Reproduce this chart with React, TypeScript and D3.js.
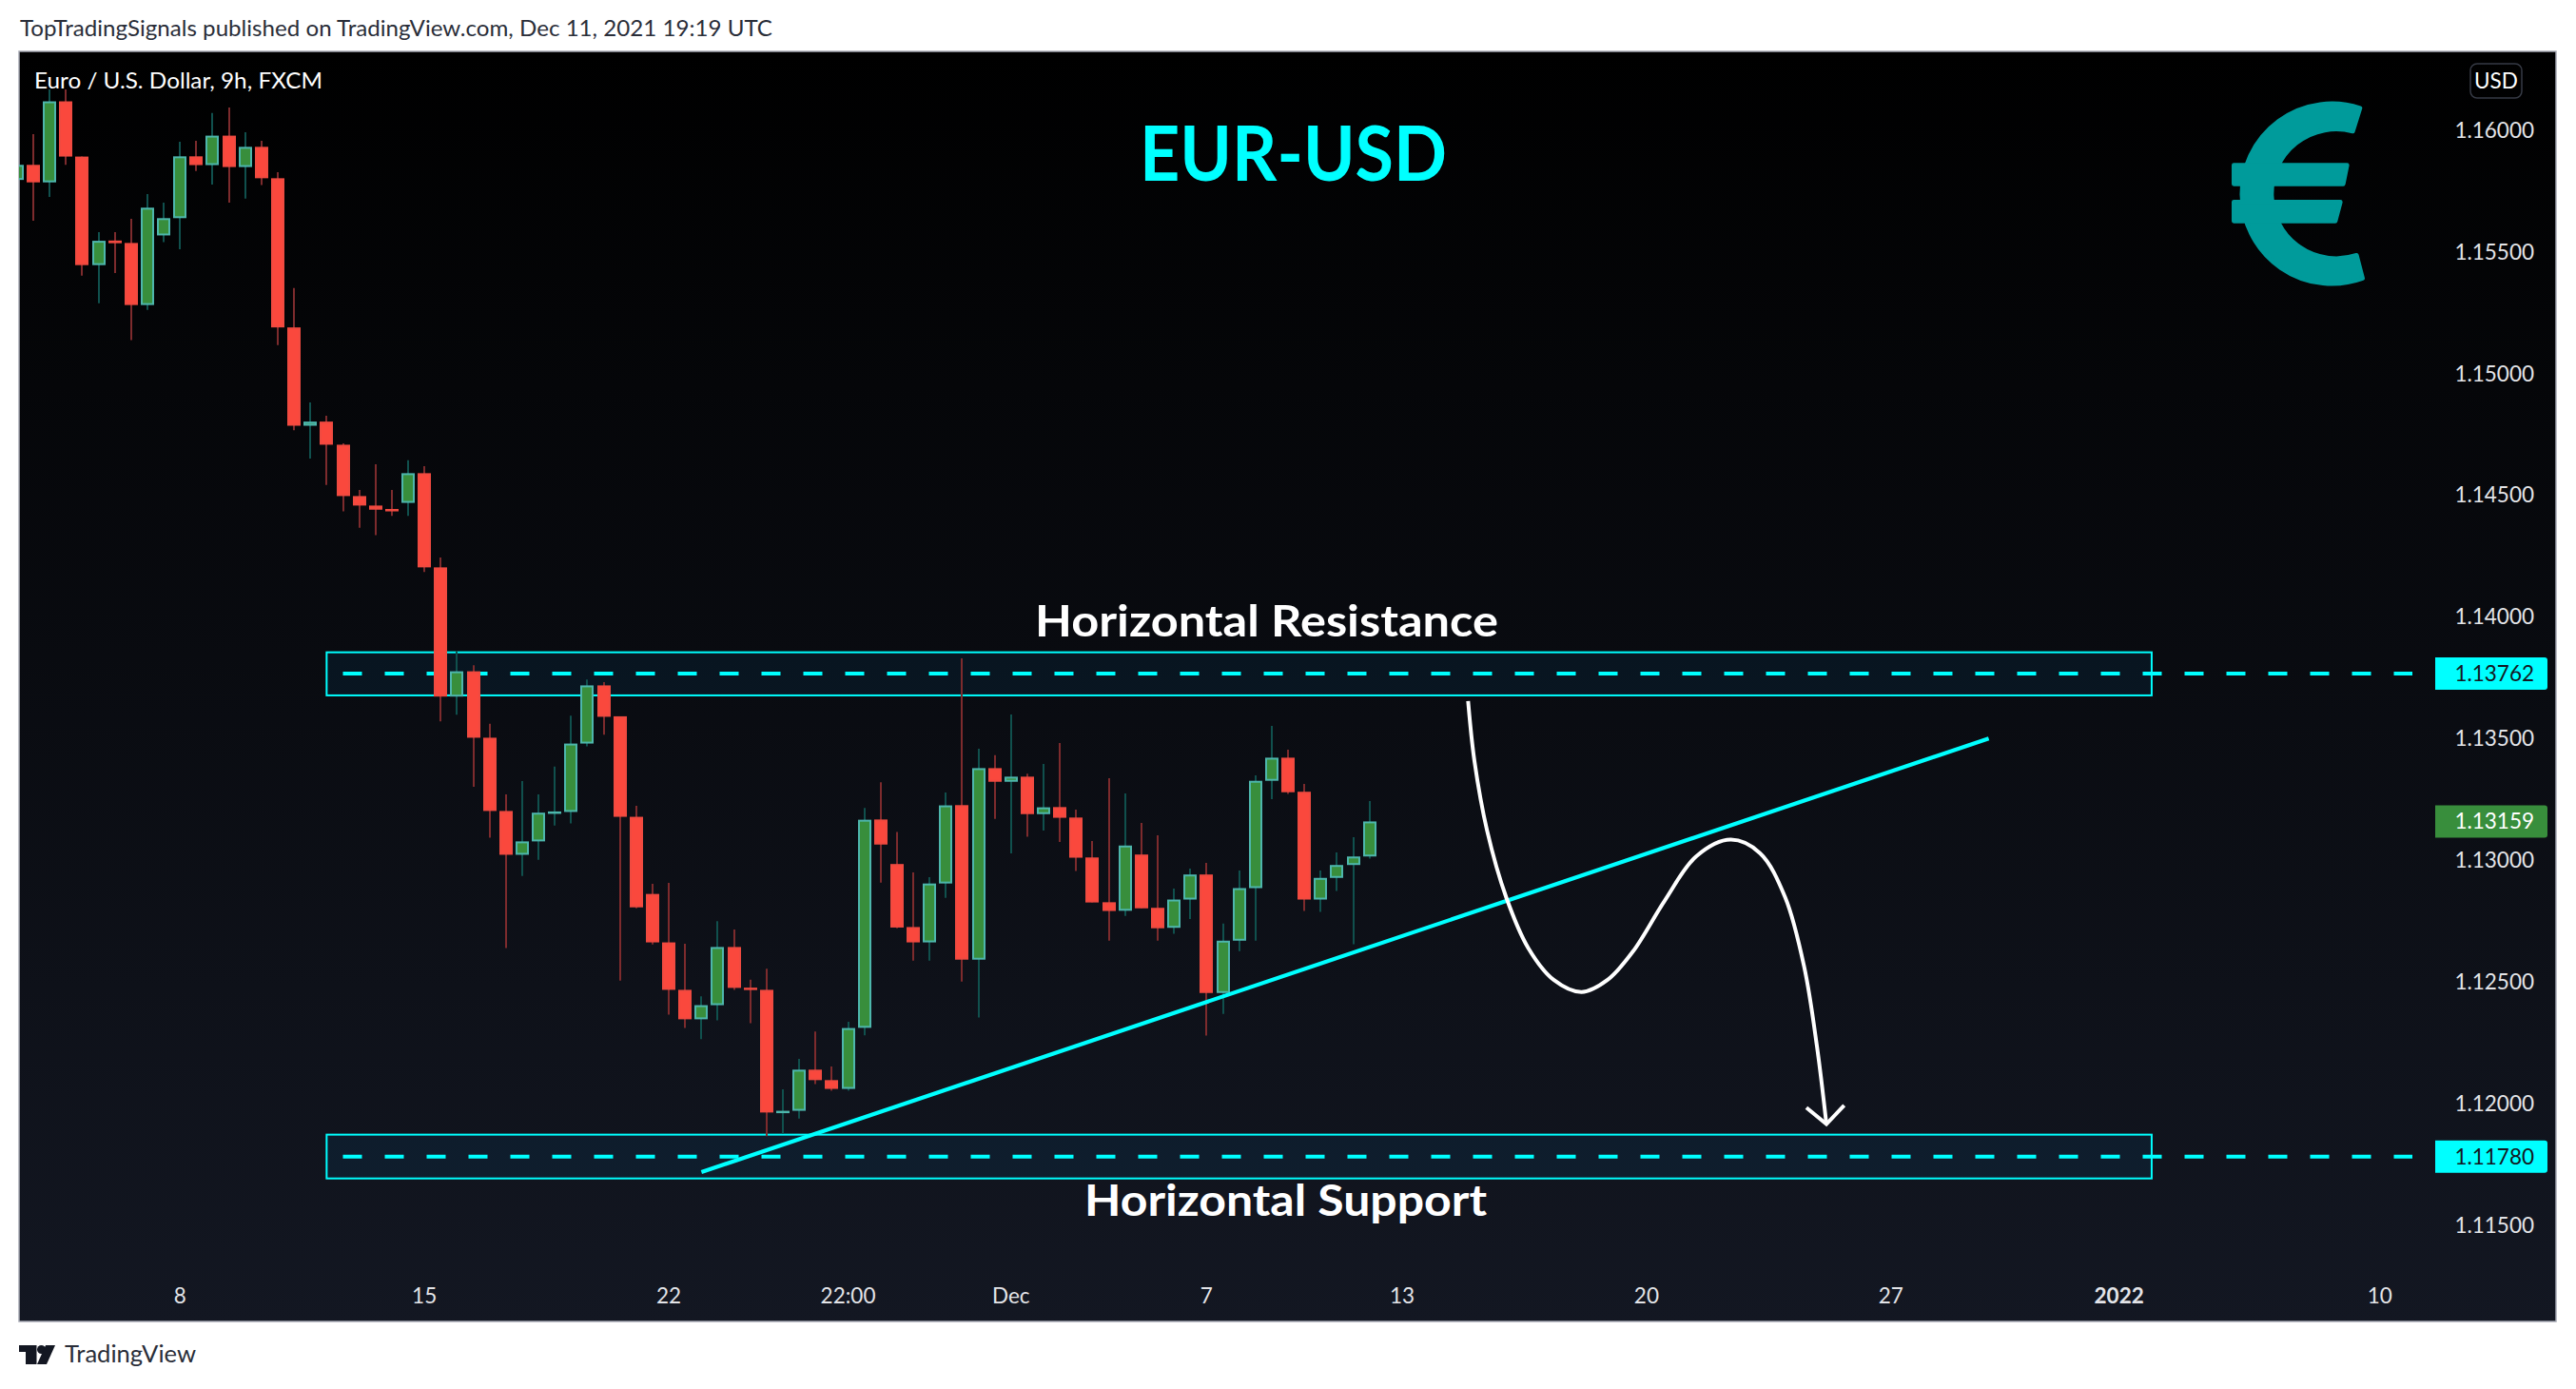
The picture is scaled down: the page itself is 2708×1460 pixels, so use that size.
import * as d3 from 'd3';

// -----------------------------------------------------------------------------
// Data
// -----------------------------------------------------------------------------

const opens = [
	1.15795, 1.15857, 1.15785, 1.16118, 1.15891, 1.15445, 1.15546, 1.15536, 1.15281, 1.15567,
	1.15638, 1.15892, 1.15856, 1.15977, 1.15848, 1.15931, 1.15802, 1.15189, 1.14785, 1.14802,
	1.14707, 1.14496, 1.14457, 1.14443, 1.14468, 1.1459, 1.14203, 1.13672, 1.13776, 1.13503,
	1.13202, 1.13022, 1.13077, 1.13195, 1.13198, 1.13479, 1.13718, 1.13591, 1.13178, 1.12861,
	1.12662, 1.12467, 1.12346, 1.12404, 1.12643, 1.12476, 1.12467, 1.11963, 1.1197, 1.12139,
	1.12096, 1.1206, 1.12311, 1.13167, 1.12984, 1.12725, 1.12662, 1.12904, 1.13226, 1.12591,
	1.13378, 1.13322, 1.13343, 1.13189, 1.13218, 1.13175, 1.13011, 1.12827, 1.12792, 1.13023,
	1.12804, 1.12722, 1.12838, 1.12941, 1.12454, 1.12669, 1.12885, 1.13326, 1.13421, 1.13281,
	1.12838, 1.12927, 1.1298, 1.13015,
];
const highs = [
	1.159, 1.15983, 1.16167, 1.16167, 1.15891, 1.15581, 1.15581, 1.15635, 1.15737, 1.15702,
	1.15952, 1.15956, 1.1607, 1.16093, 1.15991, 1.15956, 1.15827, 1.15351, 1.14881, 1.14826,
	1.14713, 1.14521, 1.14627, 1.14521, 1.14643, 1.14619, 1.14244, 1.1386, 1.13801, 1.1356,
	1.1327, 1.13325, 1.1327, 1.13384, 1.13594, 1.13742, 1.13731, 1.13591, 1.13223, 1.12903,
	1.12907, 1.12656, 1.1244, 1.12749, 1.12715, 1.12509, 1.12554, 1.12058, 1.12183, 1.12296,
	1.12152, 1.12336, 1.13214, 1.1332, 1.13116, 1.1295, 1.1293, 1.13278, 1.13829, 1.13458,
	1.13431, 1.13599, 1.13355, 1.13395, 1.13481, 1.13208, 1.13079, 1.13337, 1.13274, 1.13153,
	1.13102, 1.12883, 1.12965, 1.12989, 1.12739, 1.12957, 1.13348, 1.13552, 1.13454, 1.13313,
	1.12957, 1.13032, 1.13094, 1.13243,
];
const lows = [
	1.1576, 1.15627, 1.15725, 1.15857, 1.15402, 1.15288, 1.15412, 1.15137, 1.15261, 1.15539,
	1.1551, 1.15832, 1.15776, 1.15702, 1.15718, 1.15774, 1.15116, 1.14766, 1.1465, 1.14542,
	1.14433, 1.14366, 1.14335, 1.14415, 1.14415, 1.14184, 1.1357, 1.13598, 1.13301, 1.13092,
	1.12639, 1.12935, 1.13001, 1.13142, 1.13151, 1.13468, 1.13515, 1.12505, 1.12802, 1.12653,
	1.12365, 1.1231, 1.12264, 1.12342, 1.12467, 1.1233, 1.11866, 1.11876, 1.11938, 1.1208,
	1.12052, 1.12052, 1.1228, 1.12908, 1.1272, 1.12587, 1.12587, 1.12845, 1.12501, 1.12353,
	1.13169, 1.13028, 1.13096, 1.13122, 1.13075, 1.12955, 1.12826, 1.12669, 1.12771, 1.12802,
	1.12669, 1.12697, 1.12758, 1.12279, 1.12368, 1.12626, 1.12669, 1.13251, 1.13272, 1.12791,
	1.12787, 1.12873, 1.12654, 1.13006,
];
const closes = [
	1.15857, 1.15785, 1.16118, 1.15891, 1.15445, 1.15545, 1.15535, 1.15281, 1.15681, 1.15638,
	1.15892, 1.15856, 1.15977, 1.15848, 1.15931, 1.15802, 1.15189, 1.14785, 1.14802, 1.14707,
	1.14496, 1.14457, 1.1444, 1.14433, 1.1459, 1.14203, 1.13672, 1.13776, 1.13503, 1.13202,
	1.13022, 1.13077, 1.13195, 1.132, 1.13479, 1.13718, 1.13589, 1.13178, 1.12806, 1.12662,
	1.12467, 1.12346, 1.12404, 1.12643, 1.12475, 1.12469, 1.11963, 1.1197, 1.12139, 1.12096,
	1.1206, 1.1231, 1.13166, 1.13064, 1.12723, 1.12662, 1.12904, 1.13225, 1.12591, 1.13378,
	1.13322, 1.13343, 1.13189, 1.13217, 1.13174, 1.1301, 1.12826, 1.12791, 1.1306, 1.12802,
	1.1272, 1.12838, 1.12941, 1.12454, 1.12669, 1.12885, 1.13326, 1.13421, 1.13279, 1.12838,
	1.12927, 1.1298, 1.13015, 1.13159,
];

const priceTicks = [1.16, 1.155, 1.15, 1.145, 1.14, 1.135, 1.13, 1.125, 1.12, 1.115];
const timeTicks = [
	{ slot: 10, label: '8' },
	{ slot: 25, label: '15' },
	{ slot: 40, label: '22' },
	{ slot: 51, label: '22:00' },
	{ slot: 61, label: 'Dec' },
	{ slot: 73, label: '7' },
	{ slot: 85, label: '13' },
	{ slot: 100, label: '20' },
	{ slot: 115, label: '27' },
	{ slot: 129, label: '2022', bold: true },
	{ slot: 145, label: '10' },
];

// zones: slot range and price range
const zones = [
	{ key: 'resistance', from: 19, to: 131, top: 1.13854, bottom: 1.13677 },
	{ key: 'support', from: 19, to: 131, top: 1.11872, bottom: 1.11692 },
];
const levels = [
	{ key: 'resistance', price: 1.13767, label: '1.13762' },
	{ key: 'support', price: 1.11782, label: '1.11780' },
];
const trendSlots = [42, 121];
const trendPrices = [1.11718, 1.135];

// the hand drawn projection
const pathSlots = [
	89.05, 89.44, 90.22, 91.39, 92.75, 94.3, 96.02, 97.61, 99.17, 101.12, 103.06, 105.16, 106.96,
	108.51, 109.68, 110.46, 111.04,
];
const pathPrices = [
	1.13654, 1.13407, 1.1312, 1.12847, 1.12638, 1.12508, 1.12458, 1.12508, 1.12625, 1.12834, 1.13016,
	1.13084, 1.13029, 1.12847, 1.1256, 1.12234, 1.11915,
];
const arrowSlots = [109.81, 111.04, 112.13];
const arrowPrices = [1.11983, 1.11915, 1.11992];

const lastPrice = 1.13159;

// -----------------------------------------------------------------------------
// Layout and colours
// -----------------------------------------------------------------------------

const WIDTH = 2708;
const HEIGHT = 1460;
const PANE = { left: 20, top: 54, right: 2687, bottom: 1389 };
const FONT = 'Lato, "Noto Sans", sans-serif';

const UP_FILL = '#388e3c';
const UP_BORDER = '#4db6ac';
const UP_WICK = '#10504d';
const DOWN_FILL = '#fa483d';
const DOWN_BORDER = '#f04a40';
const DOWN_WICK = '#7d2b2d';
const CYAN = '#00ffff';

const x = d3.scaleLinear().domain([0, 1]).range([17.9, 35.03]);
const y = d3.scaleLinear().domain([1.16, 1.115]).range([136.7, 1287.8]);

const curve = d3
	.line<number>()
	.x((slot) => x(slot))
	.y((_, i) => y(pathPrices[i]))
	.curve(d3.curveCatmullRom.alpha(0.5));

const arrow = d3
	.line<number>()
	.x((slot) => x(slot))
	.y((_, i) => y(arrowPrices[i]));

const BODY = 14;

function Candles() {
	return (
		<g clipPath="url(#pane-clip)">
			{opens.map((open, i) => {
				const close = closes[i];
				const up = close >= open;
				const cx = Math.round(x(i));
				const top = y(Math.max(open, close));
				const bottom = y(Math.min(open, close));
				return (
					<g key={i}>
						<line x1={cx} x2={cx} y1={y(highs[i])} y2={y(lows[i])} stroke={up ? UP_WICK : DOWN_WICK} strokeWidth={2} />
						<rect
							x={cx - BODY / 2 + 1}
							y={top + 1}
							width={BODY - 2}
							height={Math.max(0.5, bottom - top - 2)}
							fill={up ? UP_FILL : DOWN_FILL}
							stroke={up ? UP_BORDER : DOWN_BORDER}
							strokeWidth={2}
						/>
					</g>
				);
			})}
		</g>
	);
}

function PriceAxis() {
	return (
		<g fontFamily={FONT} fontSize={22.5} textAnchor="end">
			{priceTicks.map((tick) => (
				<text key={tick} x={2664} y={y(tick) + 8} fill="#e3e4e8">
					{d3.format('.5f')(tick)}
				</text>
			))}
			{levels.map((level) => (
				<g key={level.key}>
					<path d={pill(y(level.price))} fill={CYAN} />
					<text x={2664} y={y(level.price) + 8} fill="#131722">
						{level.label}
					</text>
				</g>
			))}
			<path d={pill(y(lastPrice))} fill={UP_FILL} />
			<text x={2664} y={y(lastPrice) + 8} fill="#ffffff">
				{d3.format('.5f')(lastPrice)}
			</text>
			<rect x={2597} y={67} width={54} height={36} rx={7} fill="none" stroke="#363a45" strokeWidth={1.5} />
			<text x={2624} y={93} textAnchor="middle" fill="#ffffff" fontSize={22.5}>
				USD
			</text>
		</g>
	);
}

// price tag, square on the left, slightly rounded on the right
function pill(cy: number) {
	const l = 2560;
	const r = 2678;
	const h = 17;
	return `M${l},${cy - h}H${r - 3}Q${r},${cy - h} ${r},${cy - h + 3}V${cy + h - 3}Q${r},${cy + h} ${r - 3},${cy + h}H${l}Z`;
}

function TimeAxis() {
	return (
		<g fontFamily={FONT} fontSize={22.5} textAnchor="middle" fill="#e3e4e8">
			{timeTicks.map((tick) => (
				<text key={tick.label} x={x(tick.slot)} y={1370} fontWeight={tick.bold ? 700 : 400}>
					{tick.label}
				</text>
			))}
		</g>
	);
}

function EuroIcon() {
	return (
		<g transform="translate(2200,40) scale(0.3333)" fill="#009b9b" stroke="#009b9b" strokeWidth={14} strokeLinejoin="round">
			<path d="M843,221 A284,284 0 1 0 851,758 L832,685 A204,204 0 1 1 820,294 Z" />
			<path d="M445,401 H802 L790,460 H445 Z" />
			<path d="M445,517 H781 L765,577 H445 Z" />
		</g>
	);
}

function Logo() {
	return (
		<g fill="#131722">
			<path d="M20,1414 H38.5 V1434 H27 V1421 H20 Z" />
			<circle cx={43.5} cy={1418.5} r={4.5} />
			<path d="M48,1414 H58 L49,1434 H39 Z" />
			<text x={68} y={1432} fontFamily={FONT} fontSize={25} fill="#2a2e39" textLength={138} lengthAdjust="spacingAndGlyphs">
				TradingView
			</text>
		</g>
	);
}

export default function App() {
	return (
		<svg width={WIDTH} height={HEIGHT} style={{ position: 'absolute', left: 0, top: 0, background: '#ffffff' }}>
			<defs>
				<linearGradient id="pane-bg" x1="0" y1="0" x2="0" y2="1">
					<stop offset="0" stopColor="#000000" />
					<stop offset="1" stopColor="#131722" />
				</linearGradient>
				<clipPath id="pane-clip">
					<rect x={PANE.left} y={PANE.top} width={PANE.right - PANE.left} height={PANE.bottom - PANE.top} />
				</clipPath>
			</defs>

			<text x={21} y={38} fontFamily={FONT} fontSize={23} fill="#2a2e39" textLength={791} lengthAdjust="spacingAndGlyphs">
				TopTradingSignals published on TradingView.com, Dec 11, 2021 19:19 UTC
			</text>

			<rect
				x={PANE.left}
				y={PANE.top}
				width={PANE.right - PANE.left}
				height={PANE.bottom - PANE.top}
				fill="url(#pane-bg)"
				stroke="#a6a9b4"
				strokeWidth={1.5}
			/>

			{zones.map((zone) => (
				<rect
					key={zone.key}
					x={x(zone.from)}
					y={y(zone.top)}
					width={x(zone.to) - x(zone.from)}
					height={y(zone.bottom) - y(zone.top)}
					fill="#00a0ff"
					fillOpacity={0.07}
					stroke={CYAN}
					strokeWidth={2}
				/>
			))}
			{levels.map((level) => (
				<line
					key={level.key}
					x1={x(20)}
					x2={x(147)}
					y1={y(level.price)}
					y2={y(level.price)}
					stroke={CYAN}
					strokeWidth={4}
					strokeDasharray="20,24"
				/>
			))}

			<Candles />

			<line x1={x(trendSlots[0])} x2={x(trendSlots[1])} y1={y(trendPrices[0])} y2={y(trendPrices[1])} stroke={CYAN} strokeWidth={4.2} />
			<path d={curve(pathSlots) ?? ''} fill="none" stroke="#ffffff" strokeWidth={4} />
			<path d={arrow(arrowSlots) ?? ''} fill="none" stroke="#ffffff" strokeWidth={4} />

			<text x={36} y={93} fontFamily={FONT} fontSize={23} fill="#ffffff" textLength={303} lengthAdjust="spacingAndGlyphs">
				Euro / U.S. Dollar, 9h, FXCM
			</text>

			<text x={1198} y={190} fontFamily={FONT} fontSize={80} fontWeight={700} fill={CYAN} textLength={323} lengthAdjust="spacingAndGlyphs">
				EUR-USD
			</text>
			<text x={1088} y={669} fontFamily={FONT} fontSize={46} fontWeight={700} fill="#ffffff" textLength={487} lengthAdjust="spacingAndGlyphs">
				Horizontal Resistance
			</text>
			<text x={1140} y={1278} fontFamily={FONT} fontSize={46} fontWeight={700} fill="#ffffff" textLength={423} lengthAdjust="spacingAndGlyphs">
				Horizontal Support
			</text>

			<EuroIcon />
			<PriceAxis />
			<TimeAxis />
			<Logo />
		</svg>
	);
}
